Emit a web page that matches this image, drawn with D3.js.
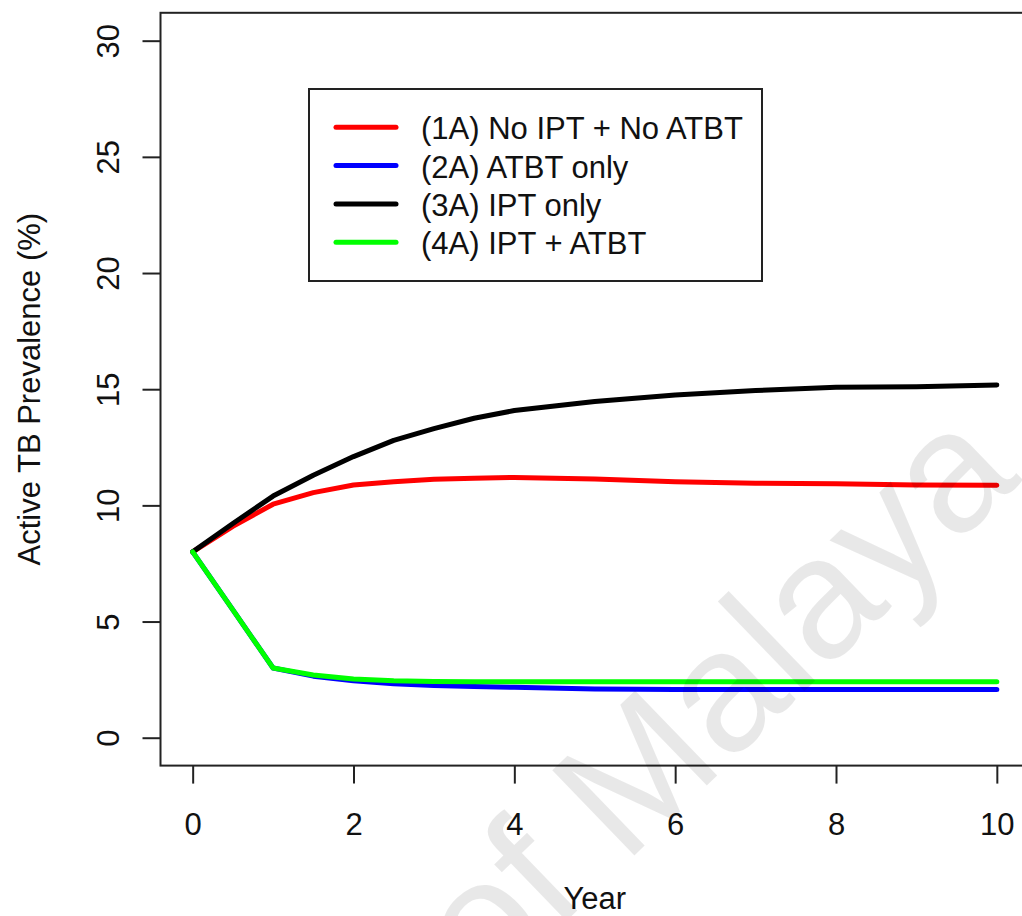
<!DOCTYPE html>
<html>
<head>
<meta charset="utf-8">
<script src="https://cdn.jsdelivr.net/npm/d3@7"></script>
<style>
  body { margin: 0; background: #fff; }
  svg text { font-family: "Liberation Sans", Arial, sans-serif; fill: #111; }
</style>
</head>
<body>
<div id="chart"></div>
<script>
// Values
const years = [0, 0.5, 1, 1.5, 2, 2.5, 3, 3.5, 4, 5, 6, 7, 8, 9, 10];
const noIptNoAtbt = [8, 9.1, 10.05, 10.55, 10.88, 11.02, 11.12, 11.17, 11.2, 11.14, 11.02, 10.95, 10.93, 10.88, 10.87];
const atbtOnly = [8, 5.5, 3.0, 2.65, 2.45, 2.32, 2.25, 2.2, 2.17, 2.1, 2.08, 2.07, 2.07, 2.07, 2.07];
const iptOnly = [8, 9.22, 10.4, 11.3, 12.1, 12.8, 13.3, 13.75, 14.08, 14.47, 14.75, 14.94, 15.08, 15.11, 15.18];
const iptAtbt = [8, 5.5, 3.0, 2.7, 2.53, 2.45, 2.42, 2.41, 2.41, 2.41, 2.41, 2.41, 2.41, 2.41, 2.41];

const seriesLabels = ["(1A) No IPT + No ATBT", "(2A) ATBT only", "(3A) IPT only", "(4A) IPT + ATBT"];
const seriesColors = ["#ff0000", "#0000ff", "#000000", "#00ff00"];
const xTicks = [0, 2, 4, 6, 8, 10];
const yTicks = [0, 5, 10, 15, 20, 25, 30];

const series = [noIptNoAtbt, atbtOnly, iptOnly, iptAtbt].map(function(vals, i) {
    return {
        label: seriesLabels[i],
        color: seriesColors[i],
        values: vals.map(function(v, j) { return {year: years[j], value: v}; })
    };
});

const W = 1022, H = 916;
// plot region (R style, 4% padding around data range)
const box = {left: 160.5, right: 1029, top: 12.8, bottom: 765.6};

const x = d3.scaleLinear()
    .domain([-0.4, 10.4])
    .range([box.left, box.right]);

const y = d3.scaleLinear()
    .domain([-1.2, 31.2])
    .range([box.bottom, box.top]);

let svg = d3.select("#chart")
    .append("svg")
    .attr("width", W)
    .attr("height", H);

// lines
const line = d3.line()
    .x(function(d) { return x(d.year); })
    .y(function(d) { return y(d.value); });

svg.append("g")
    .selectAll("path")
    .data(series)
    .enter()
    .append("path")
    .attr("d", function(s) { return line(s.values); })
    .attr("fill", "none")
    .attr("stroke", function(s) { return s.color; })
    .attr("stroke-width", 5)
    .attr("stroke-linejoin", "round")
    .attr("stroke-linecap", "round");

// box
svg.append("rect")
    .attr("x", box.left)
    .attr("y", box.top)
    .attr("width", box.right - box.left)
    .attr("height", box.bottom - box.top)
    .attr("fill", "none")
    .attr("stroke", "#222")
    .attr("stroke-width", 2);

// x axis
let xAxis = svg.append("g")
    .attr("transform", "translate(0, " + box.bottom + ")")
    .call(d3.axisBottom(x).tickValues(xTicks).tickSize(18).tickFormat(d3.format("d")));
xAxis.select(".domain").remove();
xAxis.selectAll(".tick line").attr("stroke", "#222").attr("stroke-width", 2);
xAxis.selectAll(".tick text")
    .attr("y", 69)
    .attr("dy", null)
    .attr("font-size", 31)
    .attr("fill", "#111");

// y axis
let yAxis = svg.append("g")
    .attr("transform", "translate(" + box.left + ", 0)")
    .call(d3.axisLeft(y).tickValues(yTicks).tickSize(18).tickFormat(d3.format("d")));
yAxis.select(".domain").remove();
yAxis.selectAll(".tick line").attr("stroke", "#222").attr("stroke-width", 2);
yAxis.selectAll(".tick text")
    .attr("x", 0)
    .attr("dy", null)
    .attr("text-anchor", "middle")
    .attr("transform", "translate(-42, 0) rotate(-90)")
    .attr("font-size", 31)
    .attr("fill", "#111");

// axis titles
svg.append("text")
    .attr("x", (box.left + box.right) / 2)
    .attr("y", 909)
    .attr("text-anchor", "middle")
    .attr("font-size", 31)
    .text("Year");

svg.append("text")
    .attr("transform", "translate(40, " + ((box.top + box.bottom) / 2) + ") rotate(-90)")
    .attr("text-anchor", "middle")
    .attr("font-size", 31)
    .text("Active TB Prevalence (%)");

// legend
let legend = svg.append("g");
legend.append("rect")
    .attr("x", 309)
    .attr("y", 89)
    .attr("width", 453)
    .attr("height", 192)
    .attr("fill", "#fff")
    .attr("stroke", "#222")
    .attr("stroke-width", 2);

let rows = legend.selectAll(".row")
    .data(series)
    .enter()
    .append("g")
    .attr("transform", function(s, i) { return "translate(0, " + (127.3 + i * 38.3) + ")"; });

rows.append("line")
    .attr("x1", 336)
    .attr("x2", 396)
    .attr("stroke", function(s) { return s.color; })
    .attr("stroke-width", 5)
    .attr("stroke-linecap", "round");

rows.append("text")
    .attr("x", 421)
    .attr("y", 12)
    .attr("font-size", 31)
    .text(function(s) { return s.label; });

// watermark
svg.append("text")
    .attr("transform", "translate(1023, 480) rotate(-44)")
    .attr("text-anchor", "end")
    .attr("font-size", 172)
    .style("fill", "#000")
    .style("fill-opacity", 0.09)
    .text("University of Malaya");
</script>
</body>
</html>
